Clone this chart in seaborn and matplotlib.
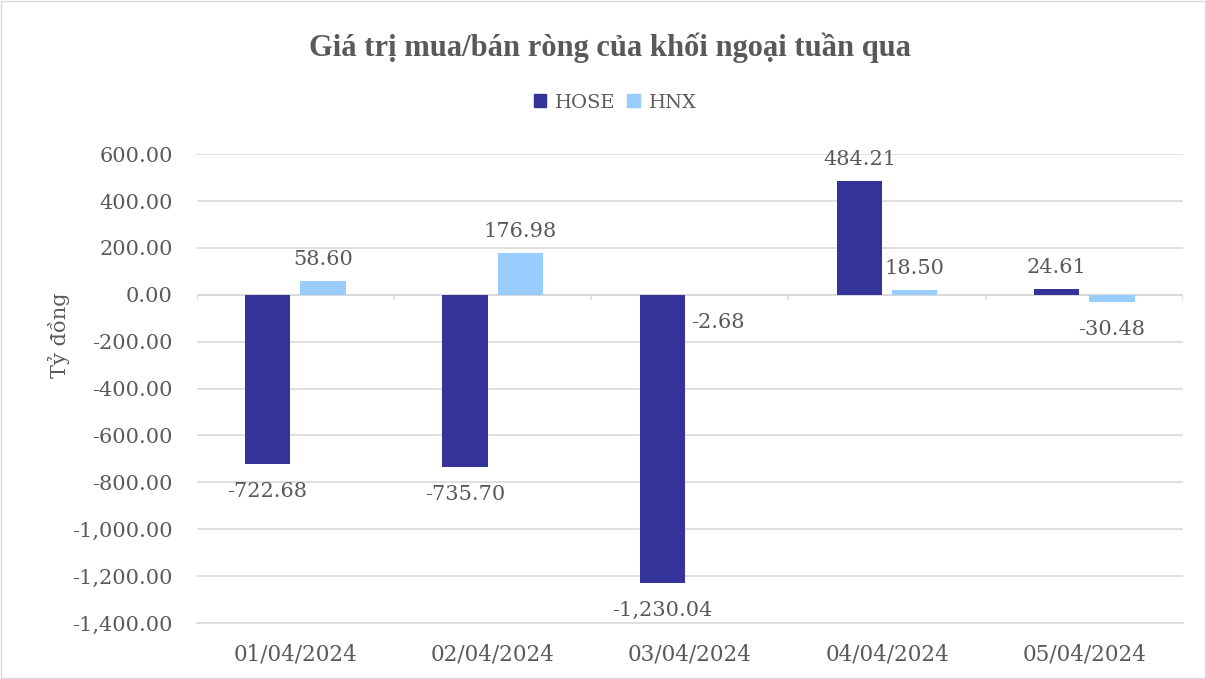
import matplotlib
matplotlib.use("Agg")
import matplotlib.pyplot as plt
import seaborn as sns
import pandas as pd
from matplotlib.patches import Rectangle

dates = ["01/04/2024", "02/04/2024", "03/04/2024", "04/04/2024", "05/04/2024"]
hose = [-722.68, -735.70, -1230.04, 484.21, 24.61]
hnx = [58.60, 176.98, -2.68, 18.50, -30.48]
series = ["HOSE", "HNX"]
colors = ["#333399", "#99CCFF"]
yticks = list(range(-1400, 601, 200))

df = pd.DataFrame({
    "date": dates * 2,
    "value": hose + hnx,
    "series": ["HOSE"] * len(dates) + ["HNX"] * len(dates),
})

sns.set_theme(style="white")
plt.rcParams["font.family"] = ["DejaVu Serif"]
text_c = "#595959"
grid_c = "#d9d9d9"

fig = plt.figure(figsize=(12.06, 6.79), dpi=100)
ax = fig.add_axes([0.163, 0.0825, 0.818, 0.6905])

sns.barplot(data=df, x="date", y="value", hue="series", hue_order=series,
            palette=colors, width=0.56, gap=0.18, ax=ax, legend=False,
            saturation=1, errorbar=None, linewidth=0, edgecolor="none")

ax.set_ylim(-1400, 600)
ax.set_yticks(yticks)
ax.set_yticklabels([f"{v:,.2f}" for v in yticks], fontsize=15, color=text_c)
ax.set_xticks(range(len(dates)))
ax.set_xticklabels(dates, fontsize=15.5, color=text_c)
ax.tick_params(axis="x", length=0, pad=15)
ax.tick_params(axis="y", length=0, pad=17)
ax.yaxis.grid(True, color=grid_c, linewidth=1.2)
ax.set_axisbelow(True)
for s in ax.spines.values():
    s.set_visible(False)
ax.axhline(-1400, color=grid_c, linewidth=1.2, zorder=0.5, clip_on=False)
ax.axhline(0, color=grid_c, linewidth=1.2, zorder=0.5)
ax.vlines([k - 0.5 for k in range(len(dates) + 1)], -22, 0, color=grid_c,
          linewidth=1.2, zorder=0.5)
ax.set_xlabel("")
ax.set_ylabel("Tỷ đồng", fontsize=15, color=text_c)
ax.yaxis.set_label_coords(-0.128, 0.614)
ax.set_xlim(-0.5, len(dates) - 0.5)

for cont in ax.containers:
    for bar in cont:
        h = bar.get_height()
        x = bar.get_x() + bar.get_width() / 2
        off = 9 if h >= 0 else -13
        va = "bottom" if h >= 0 else "top"
        ax.annotate(f"{h:,.2f}", (x, h), xytext=(0, off), textcoords="offset points",
                    ha="center", va=va, fontsize=15, color=text_c)

fig.text(0.506, 0.93, "Giá trị mua/bán ròng của khối ngoại tuần qua", ha="center",
         va="center", fontsize=22, fontweight="bold", color=text_c,
         family=["Liberation Serif", "DejaVu Serif"])

# legend
handles = [Rectangle((0, 0), 1, 1, color=c) for c in colors]
fig.legend(handles, series, loc="center", bbox_to_anchor=(0.51, 0.849), ncol=2,
           frameon=False, fontsize=14, handlelength=0.65, handleheight=0.65,
           columnspacing=0.6, handletextpad=0.45, labelcolor=text_c)

fig.add_artist(Rectangle((0.001, 0.001), 0.998, 0.997, transform=fig.transFigure,
                         fill=False, edgecolor=grid_c, linewidth=1))

fig.savefig("out.png", dpi=100)
